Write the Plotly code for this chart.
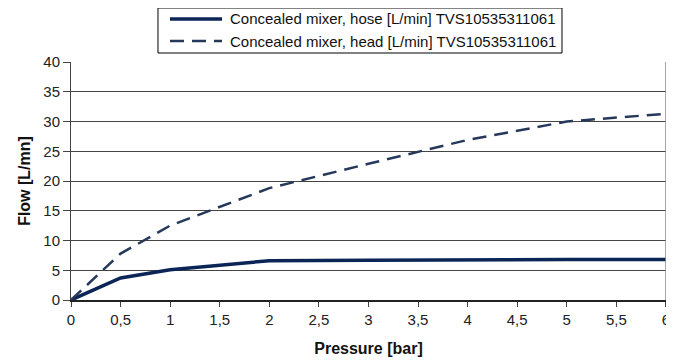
import plotly.graph_objects as go

pressure = [0, 0.5, 1, 2, 3, 4, 5, 6]
hose_flow = [0, 3.7, 5.1, 6.6, 6.7, 6.8, 6.8, 6.8]
head_flow = [0, 7.8, 12.5, 18.8, 22.9, 26.9, 30.0, 31.3]
x_ticks = [0, 0.5, 1, 1.5, 2, 2.5, 3, 3.5, 4, 4.5, 5, 5.5, 6]
y_ticks = [0, 5, 10, 15, 20, 25, 30, 35, 40]
names = ["Concealed mixer, hose [L/min] TVS10535311061",
         "Concealed mixer, head [L/min] TVS10535311061"]

hose_line = dict(color="#0b2557", width=3.5)
head_line = dict(color="#26395a", width=2.5, dash="14px,8px")

fig = go.Figure()
fig.add_trace(go.Scatter(x=pressure, y=hose_flow, mode="lines", name=names[0],
                         line=hose_line, showlegend=False))
fig.add_trace(go.Scatter(x=pressure, y=head_flow, mode="lines", name=names[1],
                         line=head_line, showlegend=False))

# page body has an 8px margin, so the figure is sized/offset to compensate
fig.update_layout(
    width=666, height=355,
    margin=dict(l=63, r=8, t=54, b=63, autoexpand=False),
    paper_bgcolor="white", plot_bgcolor="white",
    separators=",.",
    font=dict(family="Liberation Sans, Arial", size=15, color="#222"),
    xaxis=dict(
        range=[0, 6.001], tickvals=x_ticks, showgrid=False,
        showline=True, linecolor="#222", linewidth=2,
        ticks="outside", ticklen=5, tickcolor="#444",
        zeroline=False, automargin=False,
        title=dict(text="<b>Pressure [bar]</b>", font=dict(size=16, color="#111"), standoff=16),
    ),
    yaxis=dict(
        range=[0, 40], tickvals=y_ticks, showgrid=True,
        gridcolor="#444", gridwidth=1,
        showline=True, linecolor="#444", linewidth=1,
        ticks="outside", ticklen=7, tickcolor="#444",
        zeroline=False, automargin=False,
        title=dict(text="<b>Flow [L/mn]</b>", font=dict(size=16, color="#111"), standoff=8),
    ),
)
# right border of plot area
fig.add_shape(type="line", xref="paper", yref="paper", x0=1, x1=1, y0=0, y1=1,
              line=dict(color="#888", width=1.5))

# manual legend (box, line samples, labels) placed above the plot
fig.add_shape(type="rect", xref="paper", yref="paper", x0=0.1462, x1=0.8252,
              y0=1.0378, y1=1.2269, line=dict(color="black", width=1),
              fillcolor="white", layer="above")
rows_y = [1.1807, 1.0882]
for yy, ln, nm in zip(rows_y, [hose_line, head_line], names):
    fig.add_shape(type="line", xref="paper", yref="paper", x0=0.1664, x1=0.2538,
                  y0=yy, y1=yy, line=ln, layer="above")
    fig.add_annotation(xref="paper", yref="paper", x=0.2639, y=yy, text=nm,
                       showarrow=False, xanchor="left", yanchor="middle",
                       font=dict(size=15, color="#111"))
fig.write_html("out.html")
